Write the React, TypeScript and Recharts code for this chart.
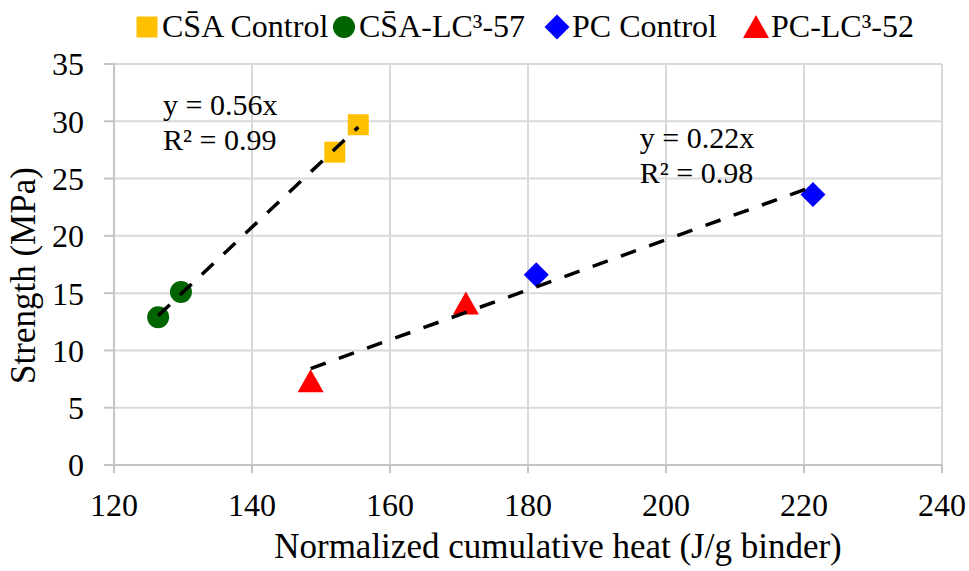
import {
  CartesianGrid,
  Legend,
  ReferenceDot,
  Scatter,
  ScatterChart,
  XAxis,
  YAxis,
} from 'recharts'

type Point = { heat: number; strength: number }
type MarkerKind = 'square' | 'circle' | 'diamond' | 'triangle'

// strength vs normalized cumulative heat, one array per mix
const csaControl: Point[] = [
  { heat: 152.0, strength: 27.3 },
  { heat: 155.4, strength: 29.7 },
]
const csaLc357: Point[] = [
  { heat: 126.4, strength: 12.9 },
  { heat: 129.7, strength: 15.1 },
]
const pcControl: Point[] = [
  { heat: 181.2, strength: 16.6 },
  { heat: 221.3, strength: 23.6 },
]
const pcLc352: Point[] = [
  { heat: 148.5, strength: 7.3 },
  { heat: 171.0, strength: 14.1 },
]

const seriesNames = ['CS\u0304A Control', 'CS\u0304A-LC³-57', 'PC Control', 'PC-LC³-52']
const seriesColors = ['#FFC000', '#006400', '#0000FF', '#FF0000']
const seriesMarkers: MarkerKind[] = ['square', 'circle', 'diamond', 'triangle']

const xTicks = [120, 140, 160, 180, 200, 220, 240]
const yTicks = [0, 5, 10, 15, 20, 25, 30, 35]

const csaFitText = ['y = 0.56x', 'R² = 0.99']
const pcFitText = ['y = 0.22x', 'R² = 0.98']

const FONT = "'Liberation Serif', 'Times New Roman', serif"
const TEXT = '#000'
const GRID = '#d9d9d9'
const AXIS = '#c4c4c4'

// least-squares trendline, spanning the x range of the points
function linearFit(points: Point[]): Point[] {
  const n = points.length
  const mx = points.reduce((s, p) => s + p.heat, 0) / n
  const my = points.reduce((s, p) => s + p.strength, 0) / n
  let sxy = 0
  let sxx = 0
  points.forEach((p) => {
    sxy += (p.heat - mx) * (p.strength - my)
    sxx += (p.heat - mx) ** 2
  })
  const slope = sxy / sxx
  const icpt = my - slope * mx
  const xs = points.map((p) => p.heat)
  const lo = Math.min(...xs)
  const hi = Math.max(...xs)
  return [
    { heat: lo, strength: slope * lo + icpt },
    { heat: hi, strength: slope * hi + icpt },
  ]
}

const csaFit = linearFit([...csaLc357, ...csaControl])
const pcFit = linearFit([...pcLc352, ...pcControl])

function drawMarker(kind: MarkerKind, cx: number, cy: number, color: string) {
  switch (kind) {
    case 'square':
      return <rect x={cx - 10.5} y={cy - 10.5} width={21} height={21} fill={color} />
    case 'circle':
      return <circle cx={cx} cy={cy} r={11} fill={color} />
    case 'diamond':
      return (
        <polygon
          points={`${cx},${cy - 12.5} ${cx + 12.5},${cy} ${cx},${cy + 12.5} ${cx - 12.5},${cy}`}
          fill={color}
        />
      )
    default:
      return (
        <polygon
          points={`${cx},${cy - 12} ${cx + 13},${cy + 11} ${cx - 13},${cy + 11}`}
          fill={color}
        />
      )
  }
}

const markerShape = (i: number) => (props: any) => (
  <g>{drawMarker(seriesMarkers[i], props.cx, props.cy, seriesColors[i])}</g>
)

const legendX = [135, 332, 545, 744]

function renderLegend() {
  return (
    <svg width={969} height={50}>
      {seriesNames.map((name, i) => (
        <g key={name}>
          {drawMarker(seriesMarkers[i], legendX[i] + 12, 27, seriesColors[i])}
          <text x={legendX[i] + 27} y={37} fontSize={32} fill={TEXT} fontFamily={FONT}>
            {name}
          </text>
        </g>
      ))}
    </svg>
  )
}

const fitLabel = (lines: string[]) => (props: any) => {
  const { x, y } = props.viewBox
  return (
    <text x={x} y={y} fontSize={30} fill={TEXT} fontFamily={FONT}>
      {lines.map((l, i) => (
        <tspan key={l} x={x} dy={i === 0 ? 0 : 35}>
          {l}
        </tspan>
      ))}
    </text>
  )
}

const yTitle = (props: any) => {
  const { x, y, height } = props.viewBox
  const cx = x + 35
  const cy = y + height / 2 + 11
  return (
    <text
      x={cx}
      y={cy}
      transform={`rotate(-90 ${cx} ${cy})`}
      textAnchor="middle"
      fontSize={35}
      fill={TEXT}
      fontFamily={FONT}
    >
      Strength (MPa)
    </text>
  )
}

const xTitle = (props: any) => {
  const { x, y, width } = props.viewBox
  return (
    <text x={x + width / 2 + 30} y={y + 93} textAnchor="middle" fontSize={35} fill={TEXT} fontFamily={FONT}>
      Normalized cumulative heat (J/g binder)
    </text>
  )
}

const trendStyle = { stroke: '#000', strokeWidth: 3.5, strokeDasharray: '16 14' }

export default function App() {
  return (
    <div style={{ width: 969, height: 571, fontFamily: FONT, background: '#fff' }}>
      <style>{'body{margin:0}'}</style>
      <ScatterChart width={969} height={571} margin={{ top: 64, right: 27, bottom: 0, left: 0 }}>
        <CartesianGrid stroke={GRID} strokeWidth={2} />
        <XAxis
          type="number"
          dataKey="heat"
          domain={[120, 240]}
          ticks={xTicks}
          interval={0}
          allowDataOverflow
          height={106}
          tickSize={8}
          tickMargin={20}
          tick={{ fontSize: 32, fill: TEXT }}
          axisLine={{ stroke: AXIS, strokeWidth: 2 }}
          tickLine={{ stroke: AXIS, strokeWidth: 2 }}
          label={xTitle}
        />
        <YAxis
          type="number"
          dataKey="strength"
          domain={[0, 35]}
          ticks={yTicks}
          interval={0}
          allowDataOverflow
          width={114}
          tickSize={10}
          tickMargin={20}
          tick={{ fontSize: 32, fill: TEXT }}
          axisLine={{ stroke: AXIS, strokeWidth: 2 }}
          tickLine={{ stroke: AXIS, strokeWidth: 2 }}
          label={yTitle}
        />
        <Legend
          layout="horizontal"
          verticalAlign="middle"
          align="center"
          wrapperStyle={{ top: 0, left: 0, width: 969, height: 50 }}
          content={renderLegend}
        />
        <Scatter name={seriesNames[0]} data={csaControl} shape={markerShape(0)} isAnimationActive={false} />
        <Scatter name={seriesNames[1]} data={csaLc357} shape={markerShape(1)} isAnimationActive={false} />
        <Scatter name={seriesNames[2]} data={pcControl} shape={markerShape(2)} isAnimationActive={false} />
        <Scatter name={seriesNames[3]} data={pcLc352} shape={markerShape(3)} isAnimationActive={false} />
        {/* dashed fits go on top of the markers */}
        <Scatter
          data={csaFit}
          line={trendStyle}
          shape={() => <g />}
          legendType="none"
          zIndex={700}
          isAnimationActive={false}
        />
        <Scatter
          data={pcFit}
          line={trendStyle}
          shape={() => <g />}
          legendType="none"
          zIndex={700}
          isAnimationActive={false}
        />
        <ReferenceDot x={127.1} y={30.55} r={0} fill="none" stroke="none" label={fitLabel(csaFitText)} />
        <ReferenceDot x={196.2} y={27.67} r={0} fill="none" stroke="none" label={fitLabel(pcFitText)} />
      </ScatterChart>
    </div>
  )
}
